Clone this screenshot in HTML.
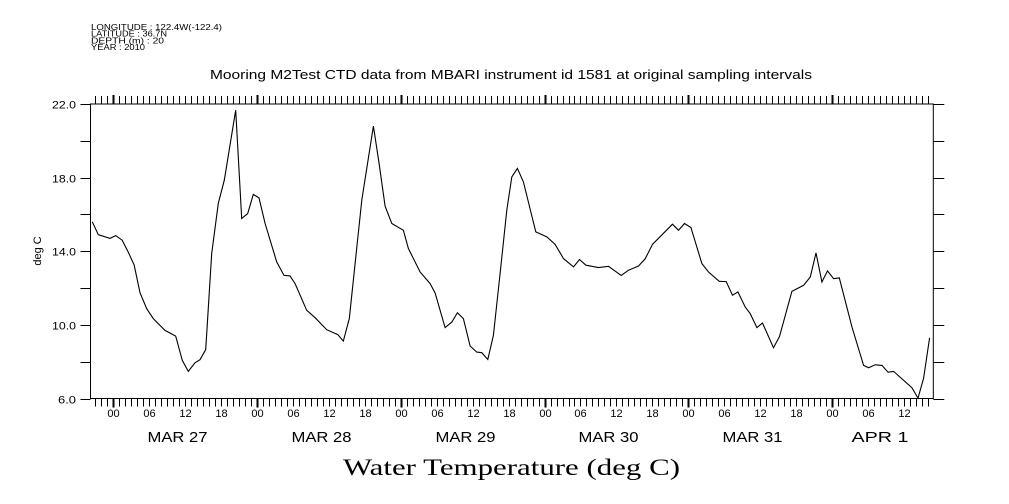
<!DOCTYPE html>
<html><head><meta charset="utf-8"><style>
html,body{margin:0;padding:0;background:#fff;}
svg{display:block;}
text{font-family:"Liberation Sans",sans-serif;fill:#000;}
</style></head><body>
<svg id="chart" width="1009" height="504" viewBox="0 0 1009 504" xmlns="http://www.w3.org/2000/svg">
<g font-size="7.8">
<text x="91" y="30" textLength="131" lengthAdjust="spacingAndGlyphs">LONGITUDE : 122.4W(-122.4)</text>
<text x="91" y="36.7" textLength="76" lengthAdjust="spacingAndGlyphs">LATITUDE : 36.7N</text>
<text x="91" y="43.3" textLength="73" lengthAdjust="spacingAndGlyphs">DEPTH (m) : 20</text>
<text x="91" y="50" textLength="54" lengthAdjust="spacingAndGlyphs">YEAR : 2010</text>
</g>
<text x="210" y="79" textLength="602" lengthAdjust="spacingAndGlyphs" font-size="12.5">Mooring M2Test CTD data from MBARI instrument id 1581 at original sampling intervals</text>
<text x="343" y="475" textLength="337" lengthAdjust="spacingAndGlyphs" font-size="23" style="font-family:'Liberation Serif',serif">Water Temperature (deg C)</text>
<text transform="translate(41,251) rotate(-90)" text-anchor="middle" font-size="11">deg C</text>
<g id="axes"></g>
<g id="plot"></g>
</svg>
<script>
const hours=[-3.5,-2.5,-0.55,0.4,1.5,2.5,3.5,4.46,5.58,6.68,8.63,10.42,11.52,12.53,13.64,14.48,15.43,16.43,17.54,18.54,20.44,21.44,22.45,23.38,24.33,25.34,27.29,28.51,29.51,30.35,32.3,33.69,35.64,37.48,38.41,39.41,40.37,41.49,43.42,44.38,45.38,46.5,48.43,49.27,51.22,52.89,53.73,55.4,56.52,57.45,58.45,59.57,60.69,61.53,62.53,63.46,64.58,65.7,66.54,67.47,68.47,70.54,72.38,73.77,75.16,76.83,77.83,78.9,81.0,82.67,84.79,86.01,87.68,88.8,90.02,93.36,94.36,95.36,96.43,98.27,99.37,101.16,102.33,103.38,104.28,105.5,106.34,107.45,108.39,110.23,111.23,113.3,115.24,116.36,117.31,118.31,119.24,120.25,121.2,123.32,125.26,126.09,127.21,128.33,129.33,130.27,133.34,134.34,135.28,136.28];
const temps=[15.6,14.9,14.7,14.85,14.6,13.96,13.24,11.75,10.88,10.34,9.7,9.39,8.07,7.47,7.94,8.11,8.65,13.87,16.6,17.86,21.67,15.78,16.05,17.09,16.9,15.51,13.42,12.69,12.66,12.24,10.79,10.39,9.74,9.47,9.12,10.34,13.33,16.78,20.8,18.77,16.45,15.51,15.14,14.15,12.87,12.24,11.73,9.85,10.15,10.66,10.34,8.85,8.52,8.49,8.12,9.43,12.79,16.23,18.04,18.5,17.77,15.05,14.78,14.38,13.6,13.15,13.55,13.24,13.11,13.18,12.69,12.97,13.2,13.59,14.38,15.47,15.14,15.51,15.29,13.33,12.87,12.37,12.35,11.61,11.79,10.97,10.61,9.85,10.1,8.76,9.37,11.82,12.15,12.6,13.91,12.33,12.93,12.51,12.55,9.88,7.8,7.67,7.83,7.8,7.43,7.47,6.58,6.02,7.1,9.3];
const yTicks=[6,8,10,12,14,16,18,20,22];
const yLabels=["6.0","10.0","14.0","18.0","22.0"];
const dayLabels=["MAR 27","MAR 28","MAR 29","MAR 30","MAR 31","APR   1"];
const hourLabels=["00","06","12","18"];

const L=90.5,R=933.3,T=104,B=398.5;
const hMin=-3.8,hMax=136.9;
const X=h=>L+(h-hMin)/(hMax-hMin)*(R-L);
const Y=v=>B-(v-6)/(22-6)*(B-T);
const NS="http://www.w3.org/2000/svg";
function mk(tag,attrs,parent){const e=document.createElementNS(NS,tag);for(const k in attrs)e.setAttribute(k,attrs[k]);parent.appendChild(e);return e;}
const ax=document.getElementById('axes'),pl=document.getElementById('plot');
const frame=mk('rect',{x:L,y:T,width:R-L,height:B-T,fill:'none',stroke:'#000','stroke-width':1},ax);


yTicks.forEach(v=>{
  const y=Math.round(Y(v))+0.5;
  const t1=mk('line',{x1:L-10,x2:L,y1:y,y2:y,stroke:'#000'},ax);
  
  
  const t2=mk('line',{x1:R,x2:R+11,y1:y,y2:y,stroke:'#000'},ax);
  
  
  if(v%4===2){
    const s=yLabels[(v-6)/4];
    const w=s.length===3?18:24;
    const lb=mk('text',{x:76-w,y:y+4,'font-size':11,textLength:w,lengthAdjust:'spacingAndGlyphs'},ax);
    lb.textContent=s;
    
    
  }
});
for(let h=Math.ceil(hMin);h<=hMax;h++){
  const x=Math.round(X(h))+0.5;
  const major=((h%24)+24)%24===0;
  const len=major?9:8;
  const tb=mk('line',{x1:x,x2:x,y1:B,y2:B+len,stroke:'#000','stroke-width':major?2:1},ax);
  
  
  const tt=mk('line',{x1:x,x2:x,y1:T-len,y2:T,stroke:'#000','stroke-width':major?2:1},ax);
  
  
  const hh=((h%24)+24)%24;
  if(hh%6===0 && h>=0){
    const lb=mk('text',{x:x,y:417,'text-anchor':'middle','font-size':11},ax);
    lb.textContent=hourLabels[hh/6];
    
    
  }
  if(hh===12 && h>=0){
    const idx=(h-12)/24;
    const last=idx===dayLabels.length-1;
    const d=mk('text',{x:x-(last?53:38),y:442,'font-size':15,textLength:last?57:60,lengthAdjust:'spacingAndGlyphs','xml:space':'preserve'},ax);
    d.textContent=dayLabels[idx];
    
    
  }
}
const pts=hours.map((h,i)=>X(h).toFixed(1)+','+Y(temps[i]).toFixed(1)).join(' ');
const line=mk('polyline',{points:pts,fill:'none',stroke:'#000','stroke-width':1.1},pl);


</script>
</body></html>
